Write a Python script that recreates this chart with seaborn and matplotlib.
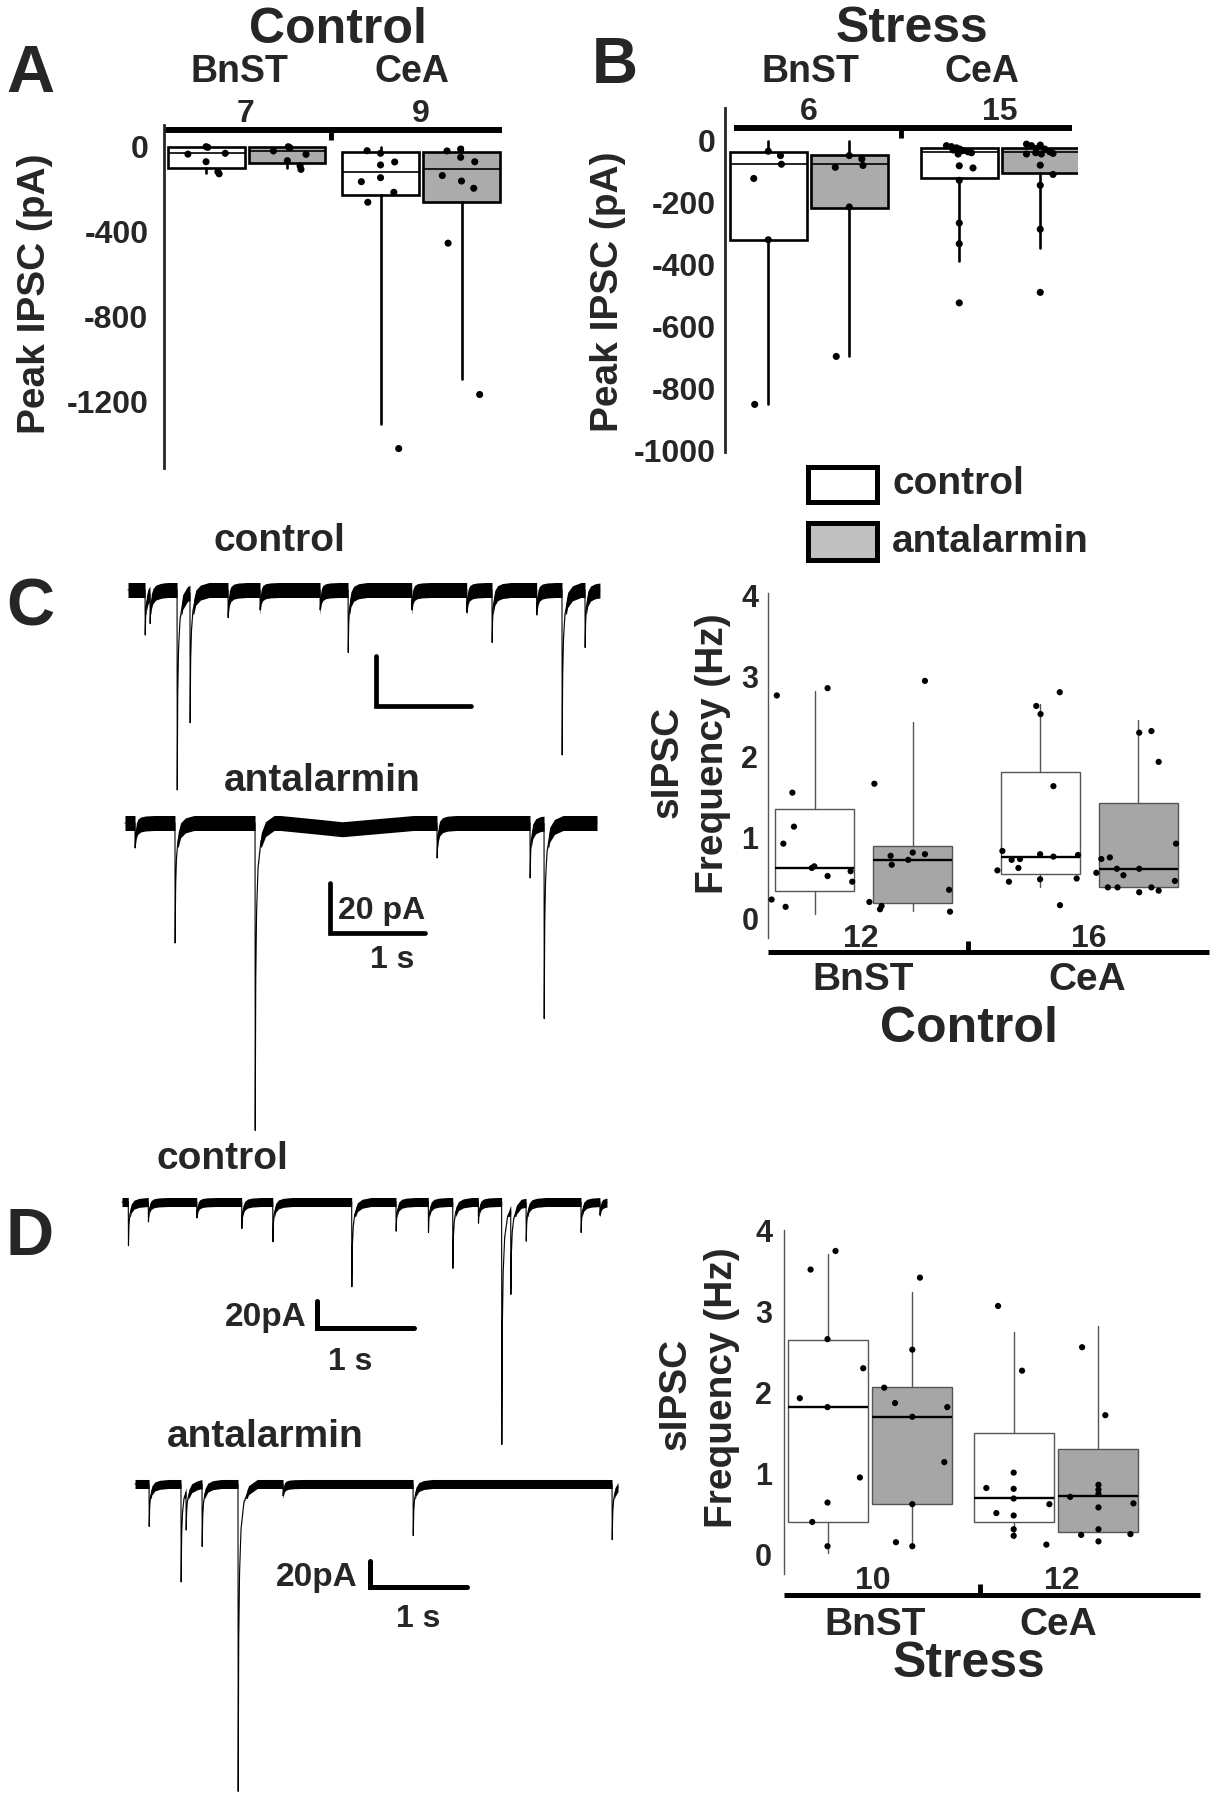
import numpy as np
import seaborn as sns
import matplotlib.pyplot as plt
from matplotlib.patches import Rectangle

sns.set_style("white")
plt.rcParams['font.family'] = ['Liberation Sans', 'DejaVu Sans']
plt.rcParams['font.weight'] = 'bold'
plt.rcParams['axes.unicode_minus'] = False

# ---------------- data ----------------
regions = ['BnST', 'CeA']
treatments = ['control', 'antalarmin']

# A: peak IPSC, control animals (order: BnST ctrl, BnST anta, CeA ctrl, CeA anta)
a_n = [7, 9]
a_q1 = [-99, -78, -227, -259]
a_med = [-31, -19, -118, -107]
a_q3 = [-3, -3, -27, -24]
a_lo = [-125, -102, -1310, -1095]
a_hi = [-3, -3, 0, 0]
a_pts = [[-35, 0, -3, -31, -71, -118, -128],
         [-20, 0, -5, -36, -66, -91, -107],
         [-19, -31, -86, -72, -165, -146, -215, -262, -1424],
         [-20, -11, -50, -71, -136, -162, -196, -455, -1169]]
a_jit = [[-0.104, 0, 0.01, 0.11, 0, 0.068, 0.075],
         [-0.078, 0.007, 0.017, 0.109, 0.002, 0.075, 0.08],
         [-0.077, 0, 0, 0.081, -0.11, 0, 0.076, -0.073, 0.104],
         [-0.083, -0.005, -0.005, 0.076, -0.11, 0, 0.07, -0.077, 0.104]]

# B: peak IPSC, stress animals
b_n = [6, 15]
b_q1 = [-320, -219, -120, -103]
b_med = [-74, -76, -36, -36]
b_q3 = [-36, -46, -25, -23]
b_lo = [-852, -697, -390, -347]
b_hi = [0, 0, -25, -23]
b_pts = [[-34, -48, -76, -122, -320, -852],
         [-48, -59, -80, -86, -214, -697],
         [-16, -19, -23, -27, -32, -36, -43, -39, -30, -81, -88, -128, -266, -333, -524],
         [-11, -16, -14, -27, -36, -41, -39, -43, -43, -25, -79, -109, -144, -286, -490]]
b_jit = [[0, 0.064, 0.069, -0.076, 0, -0.071],
         [0, 0.066, 0.072, -0.073, 0, -0.068],
         [-0.067, -0.041, -0.015, 0.003, 0.02, 0.046, -0.006, 0.064, -0.032, 0, 0.072, 0, 0, 0, 0],
         [-0.072, -0.046, 0, 0.024, 0.05, 0.067, -0.024, 0.006, -0.072, -0.02, 0, 0.067, 0, 0, 0]]

# C: sIPSC frequency, control animals
c_n = [12, 16]
c_q1 = [0.35, 0.193, 0.556, 0.40]
c_med = [0.626, 0.728, 0.77, 0.617]
c_q3 = [1.354, 0.905, 1.819, 1.436]
c_lo = [0.06, 0.10, 0.40, 0.40]
c_hi = [2.82, 2.436, 2.654, 2.457]
c_pts = [[2.76, 2.85, 1.56, 1.14, 0.93, 0.63, 0.65, 0.53, 0.59, 0.46, 0.24, 0.15],
         [2.94, 1.67, 0.78, 0.67, 0.73, 0.82, 0.80, 0.36, 0.21, 0.16, 0.12, 0.09],
         [2.63, 2.53, 2.80, 1.64, 0.84, 0.80, 0.77, 0.79, 0.73, 0.74, 0.63, 0.60, 0.46, 0.49, 0.50, 0.17],
         [2.30, 2.32, 1.94, 0.93, 0.57, 0.74, 0.76, 0.62, 0.62, 0.54, 0.39, 0.39, 0.33, 0.39, 0.35, 0.47]]
c_jit = [[-0.167, 0.058, -0.098, -0.091, -0.138, -0.012, -0.001, 0.058, 0.16, 0.167, -0.19, -0.128],
         [0.055, -0.169, -0.097, -0.092, -0.019, 0.001, 0.055, 0.162, -0.191, -0.137, -0.144, 0.166],
         [-0.018, 0.001, 0.086, 0.058, -0.168, -0.001, 0.058, 0.167, -0.127, -0.09, -0.097, -0.19,
          -0.139, -0.001, 0.161, 0.087],
         [0.004, 0.058, 0.09, 0.167, -0.186, -0.164, -0.126, -0.095, 0.004, -0.066, -0.135, -0.092,
          0.004, 0.058, 0.09, 0.162]]

# D: sIPSC frequency, stress animals
d_n = [10, 12]
d_q1 = [0.395, 0.618, 0.395, 0.272]
d_med = [1.821, 1.70, 0.692, 0.721]
d_q3 = [2.649, 2.064, 1.495, 1.298]
d_lo = [0.02, 0.10, 0.20, 0.272]
d_hi = [3.707, 3.238, 2.752, 2.826]
d_pts = [[3.75, 3.52, 2.66, 2.30, 1.93, 1.82, 0.95, 0.64, 0.40, 0.10],
         [3.42, 2.53, 2.06, 1.87, 1.82, 1.70, 1.14, 0.62, 0.15, 0.10],
         [3.07, 2.27, 1.01, 0.82, 0.81, 0.69, 0.62, 0.51, 0.48, 0.31, 0.23, 0.12],
         [2.56, 1.72, 0.71, 0.86, 0.80, 0.75, 0.58, 0.63, 0.31, 0.24, 0.25, 0.16]]
d_jit = [[0.041, -0.093, -0.002, 0.19, -0.151, -0.002, 0.172, -0.002, -0.084, -0.002],
         [0.043, 0.002, -0.149, -0.091, 0.19, 0.002, 0.174, 0.002, -0.086, 0.002],
         [-0.085, 0.044, -0.001, -0.148, -0.001, -0.001, 0.191, -0.094, -0.001, -0.001, -0.001, 0.175],
         [-0.085, 0.04, -0.149, 0.003, 0.003, 0.003, 0.003, 0.191, 0.003, -0.09, 0.175, 0.003]]

# example traces: event onset (s) and amplitude (pA)
c_ctrl_span = (0.295, 5.263)
c_ctrl_t = [0.474, 0.526, 0.811, 0.947, 1.347, 1.684, 2.316, 2.611, 3.281, 3.86, 4.126, 4.596,
            4.863, 5.105]
c_ctrl_amp = [18, 12, 80, 52, 11, 8, 8, 25, 8, 9, 21, 10, 66, 23]
c_anta_span = (0.263, 5.232)
c_anta_t = [0.368, 0.789, 1.632, 3.547, 4.526, 4.674]
c_anta_amp = [10, 48, 123, 14, 22, 78]
c_anta_drift_t = [0.26, 1.9, 2.3, 2.55, 2.85, 3.3, 5.24]
c_anta_drift_v = [0, 0, -1.5, -2.5, -1.5, 0, 0]

d_ctrl_span = (0.228, 5.254)
d_ctrl_t = [0.293, 0.5, 1.002, 1.468, 1.79, 2.608, 3.067, 3.402, 3.655, 3.92, 4.162, 4.256,
            4.415, 4.984, 5.18]
d_ctrl_amp = [33, 15, 12, 20, 30, 64, 22, 23, 50, 16, 183, 64, 29, 23, 10]
d_anta_span = (0.363, 5.368)
d_anta_t = [0.508, 0.839, 0.891, 1.057, 1.430, 1.896, 3.244, 5.306]
d_anta_amp = [32, 74, 29, 47, 232, 9, 39, 42]

# shape of one synaptic event (time after onset, fraction of peak)
kern_t = [0, 0.002, 0.006, 0.015, 0.03, 0.06, 0.11, 0.2]
kern_f = [0, 1, 0.55, 0.3, 0.15, 0.06, 0.02, 0]

# ---------------- figure ----------------
W, H = 1211, 1800
fig = plt.figure(figsize=(W / 100, H / 100), dpi=100)


def px_ax(x0, y0, x1, y1):
    return fig.add_axes([x0 / W, 1 - y1 / H, (x1 - x0) / W, (y1 - y0) / H])


def ftxt(x, y, s, size, ha='center', va='baseline', **kw):
    fig.text(x / W, 1 - y / H, s, fontsize=size, ha=ha, va=va, fontweight='bold', **kw)


def box_panel(ax, q1, med, q3, lo, hi, pts, jit, off, width, fills, edge, lw, med_lw, dot_s):
    pos = [g + (-off if k == 0 else off) for g in range(2) for k in range(2)]
    stats = [dict(q1=q1[i], med=med[i], q3=q3[i], whislo=lo[i], whishi=hi[i], fliers=[])
             for i in range(4)]
    bp = ax.bxp(stats, positions=pos, widths=width, patch_artist=True,
                showcaps=False, showfliers=False,
                boxprops=dict(edgecolor=edge, linewidth=lw),
                whiskerprops=dict(color=edge, linewidth=lw),
                medianprops=dict(color='black', linewidth=med_lw))
    for i, patch in enumerate(bp['boxes']):
        patch.set_facecolor(fills[i % 2])
    xs, ys = [], []
    for i in range(4):
        xs += [pos[i] + j for j in jit[i]]
        ys += pts[i]
    sns.scatterplot(x=xs, y=ys, ax=ax, color='black', s=dot_s, edgecolor='none',
                    legend=False, zorder=5, clip_on=False)
    ax.set_xticks([])
    for s in ['top', 'right', 'bottom']:
        ax.spines[s].set_visible(False)


def trace(ax, span, ev_t, ev_a, base, band, drift_t=None, drift_v=None):
    t = np.arange(span[0], span[1], 0.0005)
    y = np.full_like(t, float(base))
    if drift_t is not None:
        y += np.interp(t, drift_t, drift_v)
    for te, a in zip(ev_t, ev_a):
        y -= a * np.interp(t - te, kern_t, kern_f, left=0, right=0)
    # noise band keeps its width, thins out only on the fast deep part of big events
    d = base - y
    hw = band * np.clip((3.2 * band - d) / band, 0.12, 1)
    ax.fill_between(t, y - hw, y + hw, color='black', lw=0)
    sns.lineplot(x=t, y=y, ax=ax, color='black', lw=0.8, estimator=None, sort=False)


# ---------- A ----------
axA = px_ax(164, 125, 502, 468)
box_panel(axA, a_q1, a_med, a_q3, a_lo, a_hi, a_pts, a_jit, 0.232, 0.441,
          ['white', '#ababab'], 'black', 1.9, 1.2, 26)
axA.set_xlim(-0.473, 1.464)
axA.set_ylim(-1515.6, 102.4)
axA.set_yticks(list(range(0, -1401, -200)))
axA.set_yticklabels([str(v) if v % 400 == 0 else '' for v in range(0, -1401, -200)])
axA.spines['left'].set_linewidth(2)
axA.tick_params(axis='y', direction='out', length=7.2, width=2, labelsize=23, pad=4)
axA.plot([-0.467, 1.464], [79, 79], color='black', lw=4.3, clip_on=False, solid_capstyle='butt')
axA.plot([0.484, 0.484], [79, 32], color='black', lw=3.5, clip_on=False, solid_capstyle='butt')

ftxt(30, 92, 'A', 48)
ftxt(338, 43, 'Control', 36)
ftxt(239, 82, regions[0], 27)
ftxt(412, 82, regions[1], 27)
ftxt(246, 122, str(a_n[0]), 23)
ftxt(421, 122, str(a_n[1]), 23)
ftxt(35, 294, 'Peak IPSC (pA)', 28, va='center', rotation=90)

# ---------- B ----------
axB = px_ax(725, 108, 1078, 452)
box_panel(axB, b_q1, b_med, b_q3, b_lo, b_hi, b_pts, b_jit, 0.212, 0.403,
          ['white', '#ababab'], 'black', 1.9, 1.2, 26)
axB.set_xlim(-0.4385, 1.4096)
axB.set_ylim(-1005.8, 105.7)
axB.set_yticks(list(range(0, -1001, -200)))
axB.set_yticklabels([str(v) for v in range(0, -1001, -200)])
axB.spines['left'].set_linewidth(2)
axB.tick_params(axis='y', direction='out', length=5.8, width=2, labelsize=23, pad=1)
axB.plot([-0.391, 1.377], [41, 41], color='black', lw=4.3, clip_on=False, solid_capstyle='butt')
axB.plot([0.483, 0.483], [41, 8], color='black', lw=3.5, clip_on=False, solid_capstyle='butt')

ftxt(615, 83, 'B', 46)
ftxt(912, 42, 'Stress', 36)
ftxt(810, 82, regions[0], 27)
ftxt(982, 82, regions[1], 27)
ftxt(809, 120, str(b_n[0]), 23)
ftxt(1000, 120, str(b_n[1]), 23)
ftxt(608, 292, 'Peak IPSC (pA)', 28, va='center', rotation=90)

# legend
for (y0, y1), fc, lab in zip([(467, 502), (523, 560)], ['white', '#c0c0c0'], treatments):
    fig.add_artist(Rectangle((808 / W, 1 - y1 / H), 69 / W, (y1 - y0) / H, transform=fig.transFigure,
                             facecolor=fc, edgecolor='black', lw=3.6))
    ftxt(892, y1 - 8, lab, 28, ha='left')

# ---------- C / D frequency boxes ----------
axC = px_ax(768, 593, 1209, 938)
box_panel(axC, c_q1, c_med, c_q3, c_lo, c_hi, c_pts, c_jit, 0.217, 0.35,
          ['white', '#a6a6a6'], '#555555', 1.0, 1.7, 20)
axC.set_xlim(-0.423, 1.530)
axC.set_ylim(-0.235, 4.025)

axD = px_ax(784, 1230, 1200, 1574)
box_panel(axD, d_q1, d_med, d_q3, d_lo, d_hi, d_pts, d_jit, 0.226, 0.427,
          ['white', '#a6a6a6'], '#555555', 1.0, 1.7, 20)
axD.set_xlim(-0.462, 1.775)
axD.set_ylim(-0.243, 4.009)

for ax, ly, tk, pad in [(axC, -0.407, 0.463, 2), (axD, -0.503, 0.591, 3.6)]:
    ax.set_yticks([0, 1, 2, 3, 4])
    ax.set_yticklabels(['0', '1', '2', '3', '4'])
    ax.spines['left'].set_linewidth(1)
    ax.spines['left'].set_color('#555555')
    ax.tick_params(axis='y', direction='out', length=5, width=1, color='#555555',
                   labelsize=22, pad=pad)
    xl = ax.get_xlim()
    ax.plot(xl, [ly, ly], color='black', lw=3.6, clip_on=False, solid_capstyle='butt')
    ax.plot([tk, tk], [ly, ly + 0.14], color='black', lw=3.5, clip_on=False, solid_capstyle='butt')

ftxt(861, 947, str(c_n[0]), 23)
ftxt(1089, 947, str(c_n[1]), 23)
ftxt(863, 990, regions[0], 28)
ftxt(1087, 990, regions[1], 28)
ftxt(969, 1042, 'Control', 36)
ftxt(668, 762, 'sIPSC', 28, va='center', rotation=90)
ftxt(713, 754, 'Frequency (Hz)', 28, va='center', rotation=90)

ftxt(873, 1589, str(d_n[0]), 23)
ftxt(1062, 1589, str(d_n[1]), 23)
ftxt(875, 1635, regions[0], 28)
ftxt(1058, 1635, regions[1], 28)
ftxt(969, 1677, 'Stress', 36)
ftxt(676, 1394, 'sIPSC', 28, va='center', rotation=90)
ftxt(722, 1388, 'Frequency (Hz)', 28, va='center', rotation=90)

# ---------- C traces ----------
axCt = px_ax(100, 500, 620, 1140)
axCt.set_xlim(0, 520 / 95)
axCt.set_ylim(-220, 36)
trace(axCt, c_ctrl_span, c_ctrl_t, c_ctrl_amp, 0, 3.0)
trace(axCt, c_anta_span, c_anta_t, c_anta_amp, -93.2, 3.0, c_anta_drift_t, c_anta_drift_v)
# scale bars 20 pA / 1 s
axCt.plot([2.905, 2.905, 3.905], [-26.4, -46.4, -46.4], color='black', lw=3.4, solid_joinstyle='miter')
axCt.plot([2.421, 2.421, 3.421], [-117.2, -137.2, -137.2], color='black', lw=3.4, solid_joinstyle='miter')
axCt.set_axis_off()

ftxt(30, 626, 'C', 48)
ftxt(279, 551, 'control', 28)
ftxt(322, 791, 'antalarmin', 28)
ftxt(338, 919, '20 pA', 23, ha='left')
ftxt(392, 968, '1 s', 23)

# ---------- D traces ----------
axDt = px_ax(100, 1120, 640, 1800)
axDt.set_xlim(0, 540 / 96.5)
axDt.set_ylim(-451.3, 61.9)
trace(axDt, d_ctrl_span, d_ctrl_t, d_ctrl_amp, 0, 3.4)
trace(axDt, d_anta_span, d_anta_t, d_anta_amp, -212.8, 3.4)
axDt.plot([2.249, 2.249, 3.249], [-74.7, -95.1, -95.1], color='black', lw=3.6, solid_joinstyle='miter')
axDt.plot([2.798, 2.798, 3.798], [-271, -290.6, -290.6], color='black', lw=3.6, solid_joinstyle='miter')
axDt.set_axis_off()

ftxt(30, 1255, 'D', 48)
ftxt(222, 1169, 'control', 28)
ftxt(265, 1447, 'antalarmin', 28)
ftxt(307, 1326, '20pA', 24, ha='right')
ftxt(350, 1370, '1 s', 23)
ftxt(358, 1586, '20pA', 24, ha='right')
ftxt(418, 1627, '1 s', 23)

fig.savefig('out.png', dpi=100, facecolor='white')
